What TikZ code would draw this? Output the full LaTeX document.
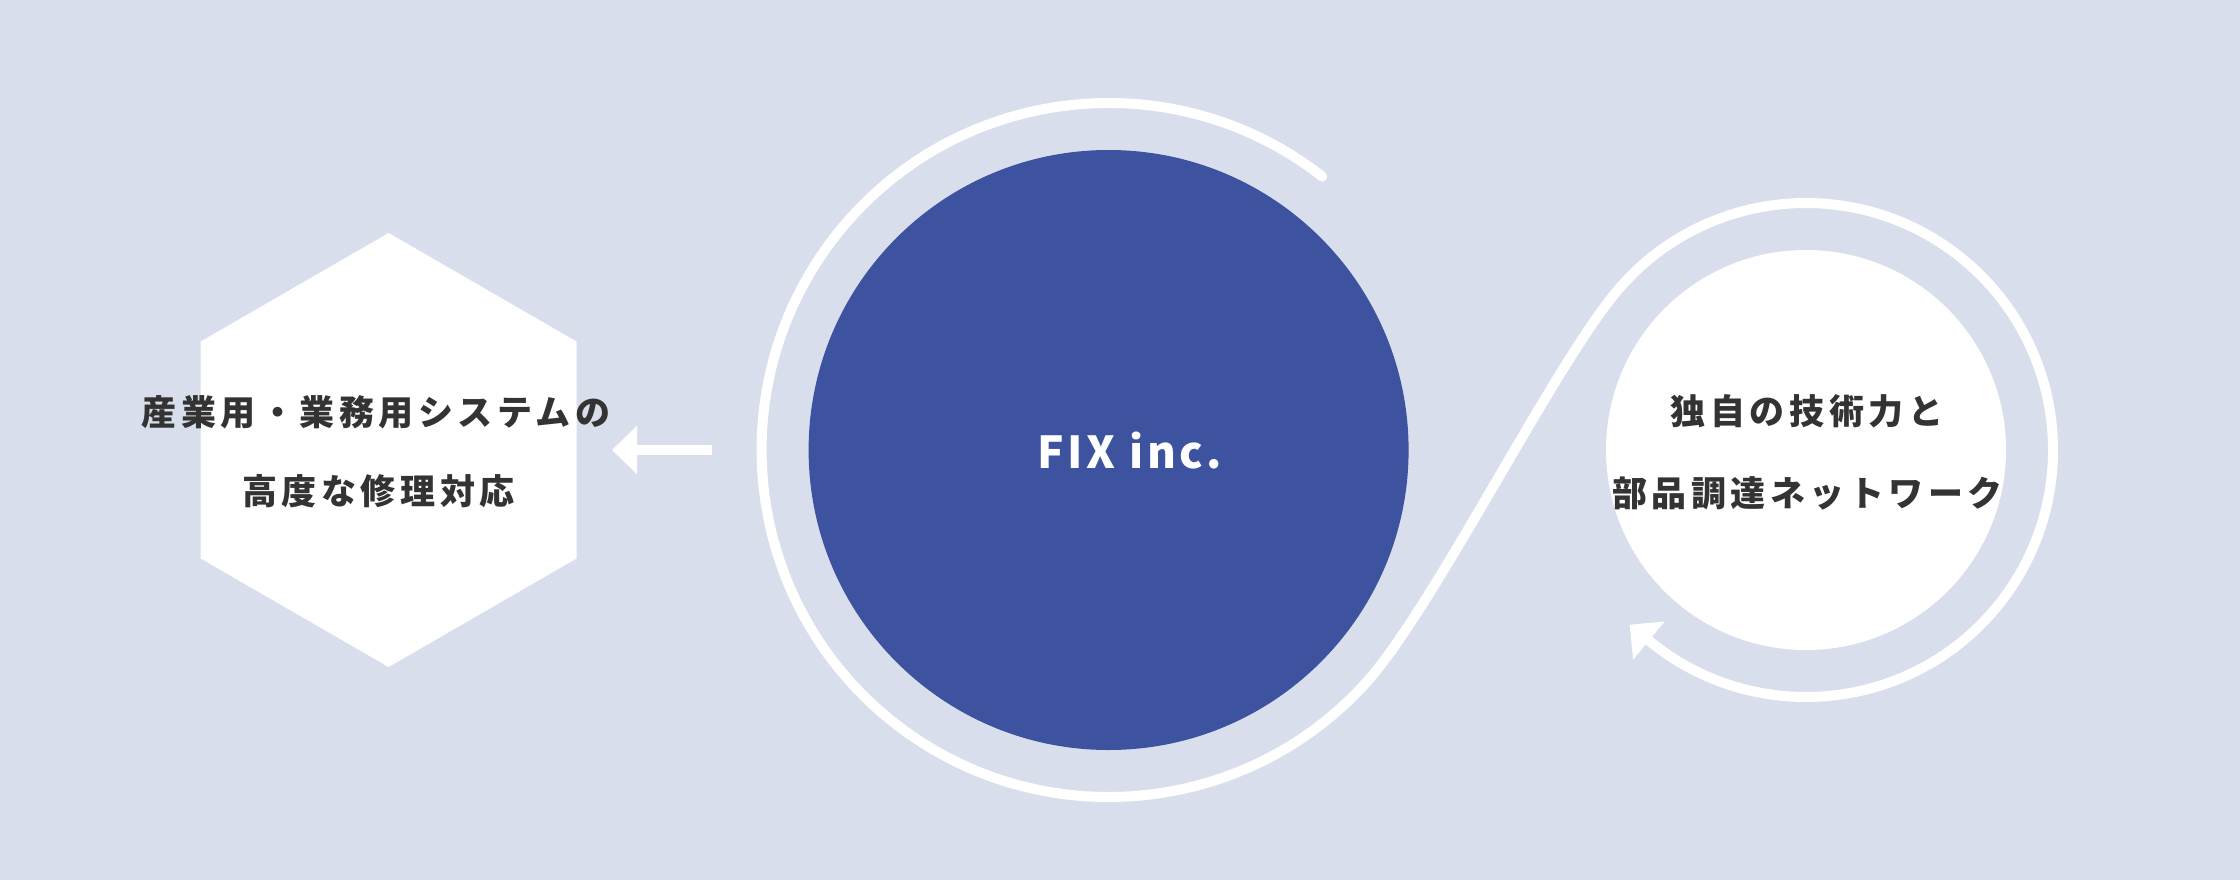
\documentclass[tikz,border=0pt]{standalone}
\usepackage{fontspec}
\usetikzlibrary{arrows.meta}
\newfontfamily\jpfont{Noto Sans CJK JP}[LetterSpace=13]
\newfontfamily\fixfont{Noto Sans CJK JP}[LetterSpace=8]
\definecolor{bgc}{RGB}{217,222,236}
\definecolor{fixblue}{RGB}{61,83,160}
\definecolor{txtc}{RGB}{51,51,51}
\tikzset{
  jptext/.style={inner sep=0pt, text=txtc, font=\jpfont\bfseries\fontsize{35}{42}\selectfont},
  whitering/.style={draw=white, line width=10pt},
  arrowhd/.style={-{Triangle[length=25pt,width=48pt]}},
}
\begin{document}
\begin{tikzpicture}[x=1pt,y=1pt]
\fill[bgc] (0,0) rectangle (2240,-880);
\useasboundingbox (0,0) rectangle (2240,-880);
% hexagon
\coordinate (hexc) at (388.6,-450);
\fill[white] ([shift={(90:217)}]hexc) -- ([shift={(150:217)}]hexc) -- ([shift={(210:217)}]hexc)
  -- ([shift={(270:217)}]hexc) -- ([shift={(330:217)}]hexc) -- ([shift={(30:217)}]hexc) -- cycle;
% circles
\node[circle, fill=fixblue, minimum size=600pt, inner sep=0pt] (fix) at (1108.6,-450) {};
\node[circle, fill=white, minimum size=400pt, inner sep=0pt] (net) at (1806,-450) {};
% ring path
\coordinate (C) at (1108.6,-450);
\coordinate (R) at (1806,-450);
\coordinate (s0) at ([shift={(52:347)}]C);
\coordinate (s2) at ([shift={(140:247)}]R);
\draw[whitering, line cap=round, arrowhd] (s0) arc[start angle=52, end angle=318, radius=347]
  .. controls +(48:100) and +(230:100) .. (s2)
  arc[start angle=140, end angle=-129.5, radius=247] -- ++(140.5:25);
% left arrow
\coordinate (la1) at (711.7,-450);
\coordinate (la2) at (612,-450);
\draw[draw=white, line width=10pt, -{Triangle[length=25pt,width=47pt]}] (la1) -- (la2);
% texts
\node[jptext] (l1) at (376,-412) {産業用・業務用システムの};
\node[jptext] (l2) at (378.5,-491) {高度な修理対応};
\node[jptext] (r1) at (1807,-411) {独自の技術力と};
\node[jptext] (r2) at (1807.5,-493) {部品調達ネットワーク};
\node[inner sep=0pt, text=white, font=\fixfont\bfseries\fontsize{44}{50}\selectfont] (fixt) at (1130,-451) {FIX inc.};
\end{tikzpicture}
\end{document}
